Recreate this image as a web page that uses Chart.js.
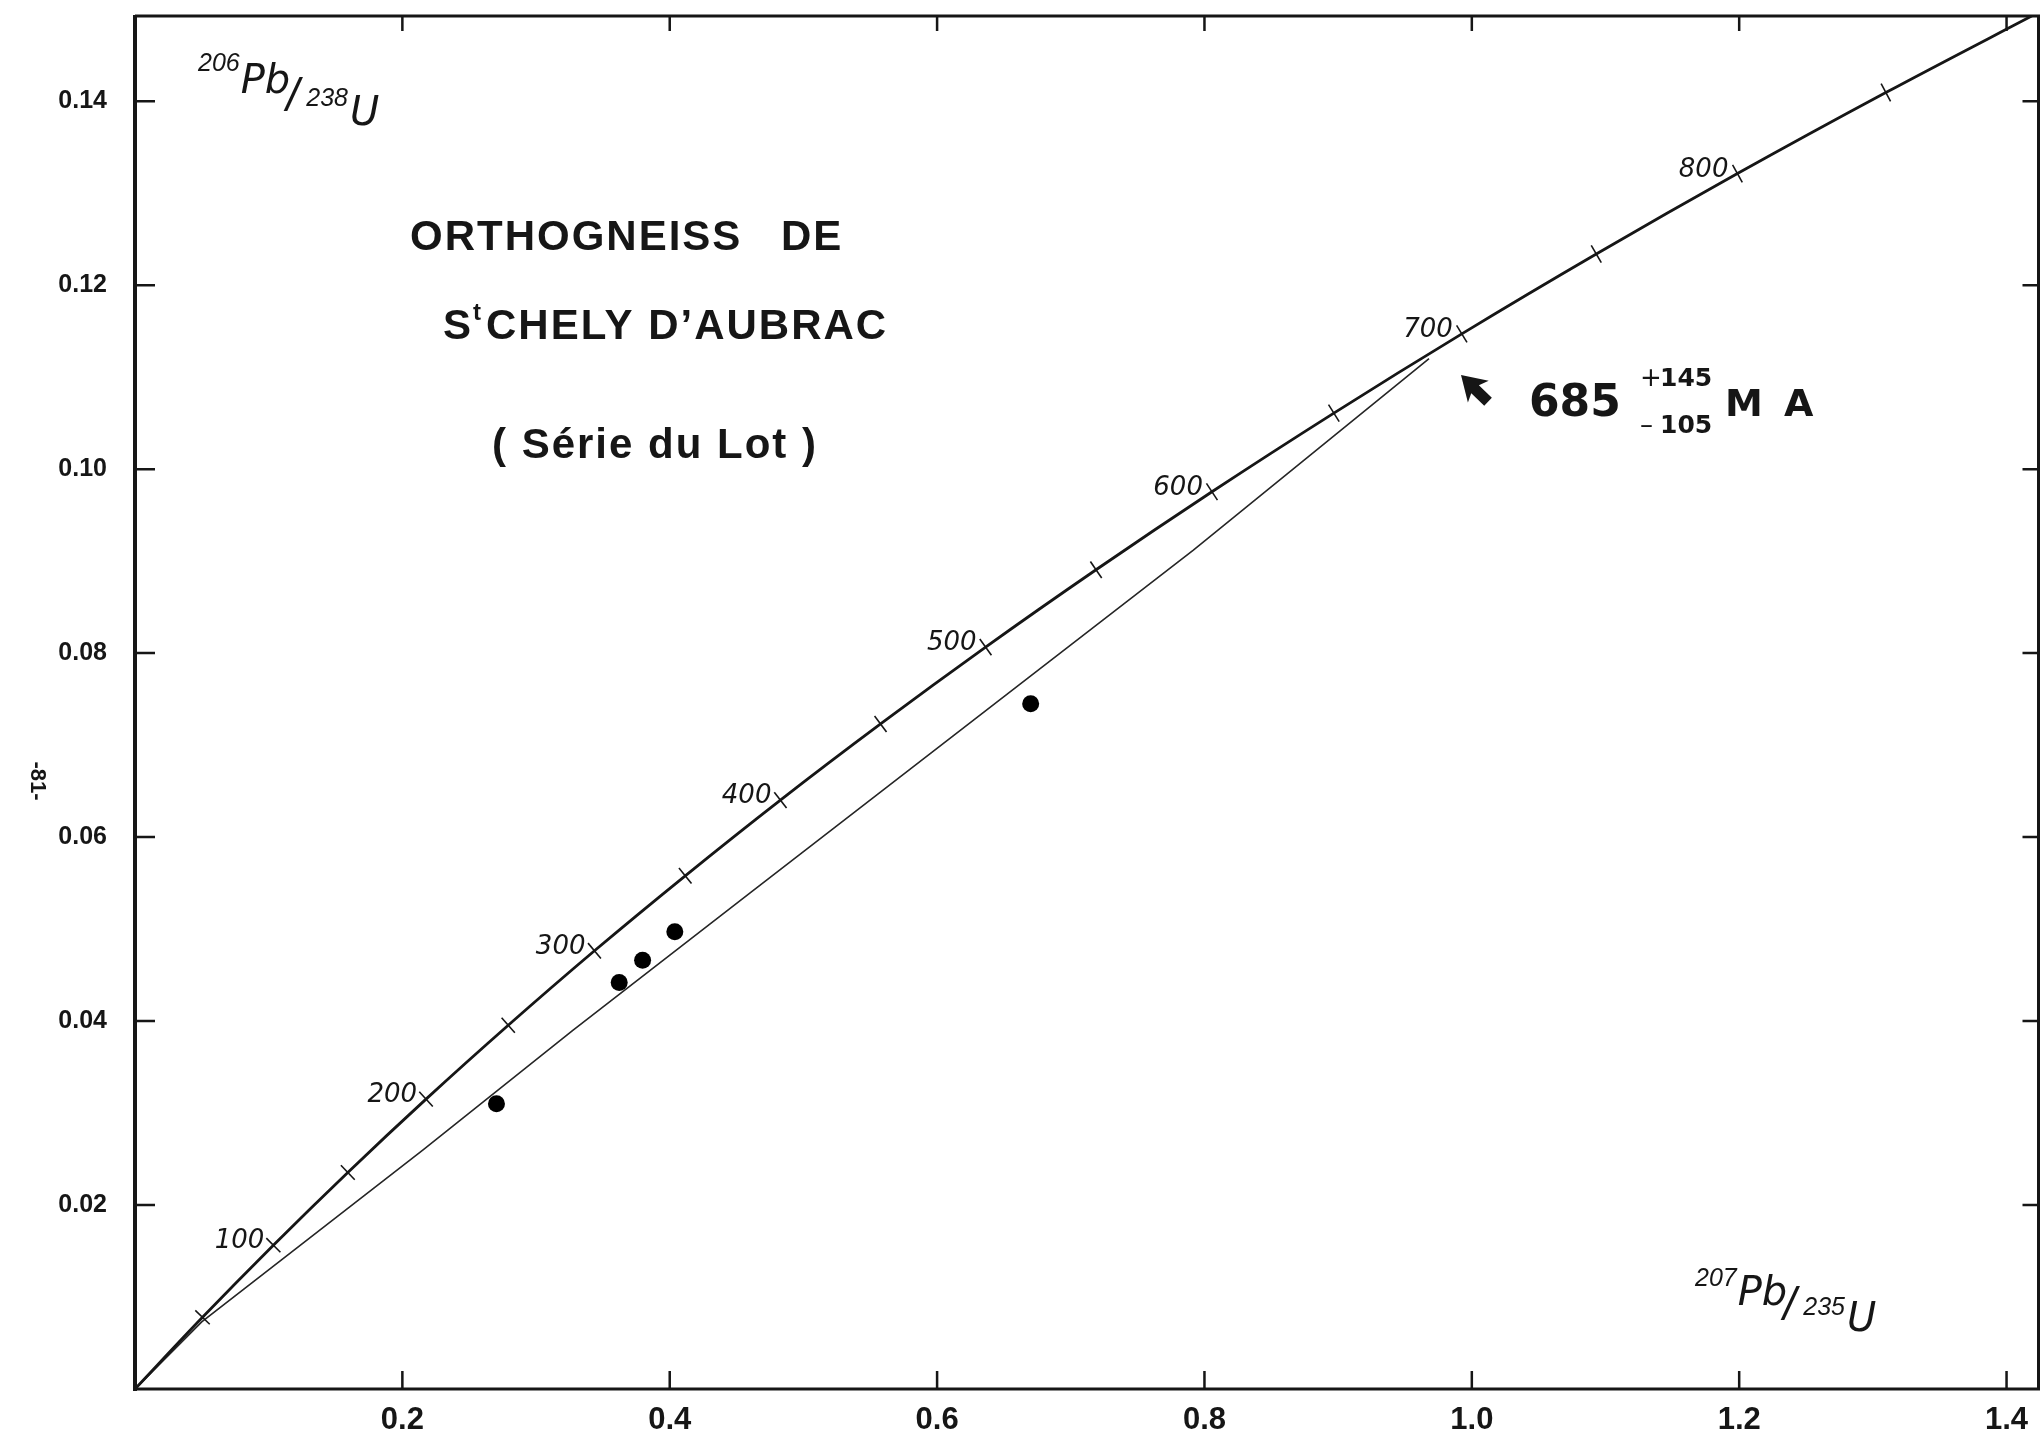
<!DOCTYPE html>
<html>
<head>
<meta charset="utf-8">
<script src="https://cdn.jsdelivr.net/npm/chart.js@4.4.1/dist/chart.umd.min.js"></script>
<style>
  html, body { margin: 0; padding: 0; background: #fff; overflow: hidden; }
  #wrap { width: 2041px; height: 1429px; overflow: hidden; }
</style>
</head>
<body>
<div id="wrap"><canvas id="concordiaChart" width="2047" height="1429"></canvas></div>
<script>
// concordia curve, read at the 50 Ma tick marks
const concordiaAges = [0, 50, 100, 150, 200, 250, 300, 350, 400, 450, 500, 550, 600, 650, 700, 750, 800, 850, 900];
const concordiaX = [0, 0.0505, 0.1035, 0.1592, 0.2177, 0.2792, 0.3437, 0.4116, 0.4828, 0.5577, 0.6363, 0.7189, 0.8056, 0.8968, 0.9925, 1.0931, 1.1987, 1.3097, 1.4263];
const concordiaY = [0, 0.00779, 0.01563, 0.02354, 0.03151, 0.03954, 0.04764, 0.05579, 0.06402, 0.07230, 0.08065, 0.08906, 0.09754, 0.10609, 0.11470, 0.12338, 0.13213, 0.14094, 0.14983];
const ageLabelValues = [100, 200, 300, 400, 500, 600, 700, 800];

// discordia (thin line) from the origin to the upper intercept
const discordiaX = [0, 0.0499, 0.2155, 0.3275, 0.4599, 0.7917, 0.968];
const discordiaY = [0, 0.0073, 0.0260, 0.0390, 0.0539, 0.0912, 0.1120];

// zircon fractions
const sampleX = [0.2704, 0.3622, 0.3797, 0.4038, 0.6700];
const sampleY = [0.0310, 0.0442, 0.0466, 0.0497, 0.0745];

const xTickValues = [0.2, 0.4, 0.6, 0.8, 1.0, 1.2, 1.4];
const xTickLabels = ["0.2", "0,4", "0.6", "0.8", "1.0", "1,2", "1,4"];
const yTickValues = [0.02, 0.04, 0.06, 0.08, 0.10, 0.12, 0.14];
const yTickLabels = ["0.02", "0.04", "0.06", "0.08", "0.10", "0.12", "0.14"];

const INK = "#161616";

function toPoints(xs, ys) {
  return xs.map((x, i) => ({ x: x, y: ys[i] }));
}

// small cross marks perpendicular to the concordia
function tickRotation(context) {
  const i = context.dataIndex;
  const sx = context.chart.scales.x;
  const sy = context.chart.scales.y;
  if (!sx || !sy) return 0;
  const a = Math.max(i - 1, 0);
  const b = Math.min(i + 1, concordiaX.length - 1);
  const dx = sx.getPixelForValue(concordiaX[b]) - sx.getPixelForValue(concordiaX[a]);
  const dy = sy.getPixelForValue(concordiaY[b]) - sy.getPixelForValue(concordiaY[a]);
  return Math.atan2(dy, dx) * 180 / Math.PI + 90;
}

// no cross at the origin nor at the point beyond the frame
function tickRadius(context) {
  const i = context.dataIndex;
  return i === 0 || i === concordiaX.length - 1 ? 0 : 10;
}

// frame with inward ticks on all four sides
const framePlugin = {
  id: "frame",
  afterDatasetsDraw(chart) {
    const { ctx, chartArea: a, scales } = chart;
    ctx.save();
    ctx.strokeStyle = INK;
    ctx.lineWidth = 3;
    ctx.beginPath();
    ctx.moveTo(a.left, a.top);
    ctx.lineTo(a.right, a.top);
    ctx.lineTo(a.right, a.bottom);
    ctx.lineTo(a.left, a.bottom);
    ctx.stroke();
    ctx.lineWidth = 4;
    ctx.beginPath();
    ctx.moveTo(a.left, a.top - 1);
    ctx.lineTo(a.left, a.bottom + 2);
    ctx.stroke();

    ctx.lineWidth = 2.5;
    scales.x.ticks.forEach((t) => {
      const px = scales.x.getPixelForValue(t.value);
      ctx.beginPath();
      ctx.moveTo(px, a.bottom);
      ctx.lineTo(px, a.bottom - 18);
      ctx.moveTo(px, a.top);
      ctx.lineTo(px, a.top + 15);
      ctx.stroke();
    });
    scales.y.ticks.forEach((t) => {
      const py = scales.y.getPixelForValue(t.value);
      ctx.beginPath();
      ctx.moveTo(a.left, py);
      ctx.lineTo(a.left + 20, py);
      ctx.moveTo(a.right, py);
      ctx.lineTo(a.right - 16, py);
      ctx.stroke();
    });
    ctx.restore();
  }
};

function put(ctx, text, x, y, font, align, spacing) {
  ctx.font = font;
  ctx.textAlign = align || "left";
  ctx.letterSpacing = spacing || "0px";
  ctx.fillText(text, x, y);
  return ctx.measureText(text).width;
}

// isotope ratio label: mass number, Pb, slash, mass number, U on a falling baseline
function ratioLabel(ctx, top, bottom, x, y, drops) {
  const sup = "italic 25px 'Liberation Sans'";
  const big = "oblique 40px 'DejaVu Sans'";
  let cx = x;
  cx += put(ctx, top, cx, y, sup) + 1;
  cx += put(ctx, "Pb", cx, y + drops[0], big) + 1;
  put(ctx, "/", cx - 5, y + drops[1], "italic 46px 'Liberation Sans'");
  cx += 15;
  cx += put(ctx, bottom, cx, y + drops[2], sup) + 2;
  put(ctx, "U", cx, y + drops[3], big);
}

// titles, age labels, axis names and the intercept annotation
const labelPlugin = {
  id: "labels",
  afterDraw(chart) {
    const { ctx, scales } = chart;
    ctx.save();
    ctx.fillStyle = INK;
    ctx.textBaseline = "alphabetic";

    // ages along the concordia
    ageLabelValues.forEach((age) => {
      const i = concordiaAges.indexOf(age);
      const px = scales.x.getPixelForValue(concordiaX[i]);
      const py = scales.y.getPixelForValue(concordiaY[i]);
      put(ctx, String(age), px - 9, py + 3, "oblique 26px 'DejaVu Sans'", "right");
    });

    // title block
    const tf = "bold 42px 'Liberation Sans'";
    put(ctx, "ORTHOGNEISS", 410, 250, tf, "left", "2px");
    put(ctx, "DE", 781, 250, tf, "left", "2px");
    const sw = put(ctx, "S", 443, 339, tf, "left", "2px");
    put(ctx, "t", 443 + sw, 320, "bold 24px 'Liberation Sans'", "left");
    put(ctx, "CHELY D\u2019AUBRAC", 443 + sw + 13, 339, tf, "left", "2px");
    put(ctx, "( Série du Lot )", 492, 458, tf, "left", "2px");

    // axis names
    ratioLabel(ctx, "206", "238", 198, 71, [22, 40, 35, 54]);
    ratioLabel(ctx, "207", "235", 1695, 1286, [19, 34, 29, 45]);

    // intercept age
    put(ctx, "685", 1529, 416, "bold 44px 'DejaVu Sans'");
    put(ctx, "+", 1640, 386, "26px 'DejaVu Sans'");
    put(ctx, "145", 1660, 386, "bold 25px 'DejaVu Sans'");
    put(ctx, "\u2013", 1640, 433, "26px 'DejaVu Sans'");
    put(ctx, "105", 1660, 433, "bold 25px 'DejaVu Sans'");
    put(ctx, "M A", 1725, 416, "bold 38px 'DejaVu Sans'", "left", "4px");

    // arrow pointing at the upper intercept
    ctx.translate(1461, 375);
    ctx.rotate(Math.atan2(-25, -26) + Math.PI);
    ctx.beginPath();
    ctx.moveTo(0, 0);
    ctx.lineTo(24, -15);
    ctx.lineTo(20, -5);
    ctx.lineTo(38, -5);
    ctx.lineTo(38, 6);
    ctx.lineTo(20, 6);
    ctx.lineTo(24, 15);
    ctx.closePath();
    ctx.fill();
    ctx.setTransform(1, 0, 0, 1, 0, 0);

    // page number
    ctx.translate(39, 781);
    ctx.rotate(Math.PI / 2);
    put(ctx, "-81-", 0, 8, "bold 22px 'Liberation Sans'", "center");
    ctx.restore();
  }
};

function noPadding(s) {
  s.paddingTop = 0;
  s.paddingBottom = 0;
  s.paddingLeft = 0;
  s.paddingRight = 0;
}

const ctx = document.getElementById("concordiaChart");

new Chart(ctx, {
  type: "scatter",
  data: {
    datasets: [
      {
        label: "Concordia",
        data: toPoints(concordiaX, concordiaY),
        showLine: true,
        borderColor: INK,
        borderWidth: 2.8,
        cubicInterpolationMode: "monotone",
        clip: 0,
        pointStyle: "line",
        pointRadius: tickRadius,
        pointHoverRadius: tickRadius,
        pointRotation: tickRotation,
        pointBorderColor: INK,
        pointBorderWidth: 1.6,
        pointBackgroundColor: INK
      },
      {
        label: "Discordia",
        data: toPoints(discordiaX, discordiaY),
        showLine: true,
        borderColor: "#262626",
        borderWidth: 1.6,
        tension: 0,
        pointRadius: 0,
        pointHoverRadius: 0
      },
      {
        label: "Zircons",
        data: toPoints(sampleX, sampleY),
        showLine: false,
        pointStyle: "circle",
        pointRadius: 8.5,
        pointHoverRadius: 8.5,
        pointBackgroundColor: "#000",
        pointBorderColor: "#000",
        pointBorderWidth: 0
      }
    ]
  },
  options: {
    responsive: false,
    animation: false,
    events: [],
    layout: { padding: { top: 16, right: 0, left: 0, bottom: 0 } },
    plugins: {
      legend: { display: false },
      tooltip: { enabled: false }
    },
    scales: {
      x: {
        type: "linear",
        min: 0,
        max: 1.4239,
        afterBuildTicks: (s) => { s.ticks = xTickValues.map((v) => ({ value: v })); },
        afterFit: (s) => { s.height = 40; noPadding(s); },
        grid: { display: false },
        border: { display: false },
        ticks: {
          autoSkip: false,
          maxRotation: 0,
          padding: 5,
          color: INK,
          font: { family: "'Liberation Sans'", size: 31, weight: "bold" },
          callback: (v) => xTickLabels[xTickValues.indexOf(v)]
        }
      },
      y: {
        type: "linear",
        min: 0,
        max: 0.14926,
        afterBuildTicks: (s) => { s.ticks = yTickValues.map((v) => ({ value: v })); },
        afterFit: (s) => { s.width = 135; noPadding(s); },
        grid: { display: false },
        border: { display: false },
        ticks: {
          autoSkip: false,
          padding: 20,
          color: INK,
          font: { family: "'Liberation Sans'", size: 25, weight: "bold" },
          callback: (v) => yTickLabels[yTickValues.indexOf(v)]
        }
      }
    }
  },
  plugins: [framePlugin, labelPlugin]
});
</script>
</body>
</html>
